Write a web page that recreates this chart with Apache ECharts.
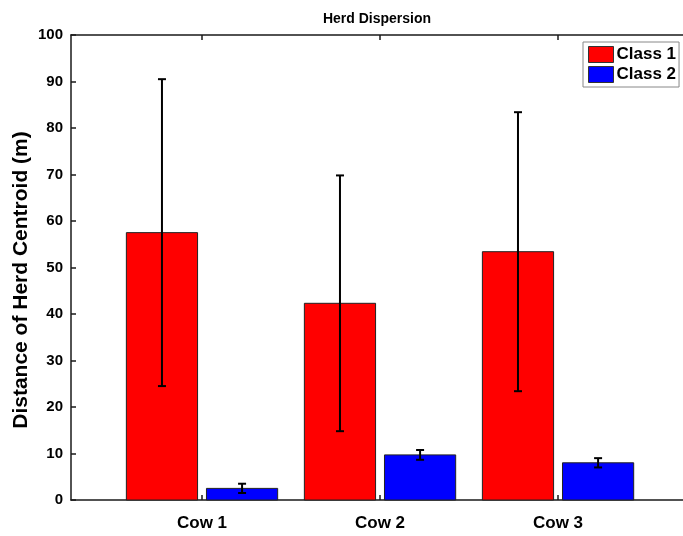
<!DOCTYPE html>
<html>
<head>
<meta charset="utf-8">
<script src="https://cdn.jsdelivr.net/npm/echarts@6/dist/echarts.min.js"></script>
<style>html,body{margin:0;padding:0;background:#fff}#c{width:683px;height:536px}</style>
</head>
<body>
<div id="c"></div>
<script>
const categories = ['Cow 1', 'Cow 2', 'Cow 3'];
const class1Mean = [57.5, 42.3, 53.4];
const class1Err = [33.0, 27.5, 30.0];
const class2Mean = [2.5, 9.7, 8.0];
const class2Err = [1.0, 1.05, 1.0];
const yTicks = [0, 10, 20, 30, 40, 50, 60, 70, 80, 90, 100];
const seriesNames = ['Class 1', 'Class 2'];

const FONT = '"Liberation Sans", Arial, Helvetica, sans-serif';
const chart = echarts.init(document.getElementById('c'), null, {renderer: 'canvas'});

function makeRender(offset, color) {
  const hw = 0.2;
  return function (params, api) {
    const x = api.value(0) + offset;
    const v = api.value(1);
    const e = api.value(2);
    const p0 = api.coord([x - hw, v]);
    const p1 = api.coord([x + hw, 0]);
    const top = api.coord([x, v + e]);
    const bot = api.coord([x, v - e]);
    const cap = 4;
    const ls = {stroke: '#000', lineWidth: 2};
    return {
      type: 'group',
      children: [
        {type: 'rect', shape: {x: p0[0], y: p0[1], width: p1[0] - p0[0], height: p1[1] - p0[1]},
         style: {fill: color, stroke: '#222', lineWidth: 1}},
        {type: 'line', shape: {x1: top[0], y1: top[1], x2: bot[0], y2: bot[1]}, style: ls},
        {type: 'line', shape: {x1: top[0] - cap, y1: top[1], x2: top[0] + cap, y2: top[1]}, style: ls},
        {type: 'line', shape: {x1: bot[0] - cap, y1: bot[1], x2: bot[0] + cap, y2: bot[1]}, style: ls}
      ]
    };
  };
}

// visible x range (plot continues past the right edge of the picture)
const xMin = 0.264, xMax = 3.702;
const tickVals = categories.map((c, i) => i + 1);
const axisLineStyle = {color: '#1a1a1a', width: 1.5};

chart.setOption({
  animation: false,
  backgroundColor: '#fff',
  title: {
    text: 'Herd Dispersion', left: 372, top: 7, textAlign: 'center',
    textStyle: {fontFamily: FONT, fontWeight: 'bold', fontSize: 14, color: '#000'}
  },
  legend: {
    orient: 'vertical', left: 583, top: 42,
    data: seriesNames,
    icon: 'rect', itemWidth: 25, itemHeight: 16, itemGap: 3,
    padding: [4, 3, 4, 5],
    borderColor: '#888', borderWidth: 1, backgroundColor: '#fff',
    textStyle: {fontFamily: FONT, fontWeight: 'bold', fontSize: 17, color: '#000', padding: [0, 0, 0, -2]},
    itemStyle: {borderColor: '#333', borderWidth: 1}
  },
  grid: {left: 71, right: 0, top: 35, bottom: 36, containLabel: false},
  xAxis: [
    {
      type: 'value', position: 'bottom', min: xMin, max: xMax,
      axisLine: {show: true, lineStyle: axisLineStyle},
      axisTick: {show: true, inside: true, length: 5, customValues: tickVals, lineStyle: axisLineStyle},
      axisLabel: {
        customValues: tickVals, margin: 15,
        formatter: v => categories[Math.round(v) - 1] || '',
        fontFamily: FONT, fontWeight: 'bold', fontSize: 17, color: '#000'
      },
      splitLine: {show: false}
    },
    {
      type: 'value', position: 'top', min: xMin, max: xMax,
      axisLine: {show: true, onZero: false, lineStyle: axisLineStyle},
      axisTick: {show: true, inside: true, length: 5, customValues: tickVals, lineStyle: axisLineStyle},
      axisLabel: {show: false},
      splitLine: {show: false}
    }
  ],
  yAxis: {
    type: 'value', min: 0, max: 100, interval: 10,
    axisLine: {show: true, lineStyle: axisLineStyle},
    axisTick: {show: true, inside: true, length: 5, lineStyle: axisLineStyle},
    axisLabel: {
      margin: 8, fontFamily: FONT, fontWeight: 'bold', fontSize: 15, color: '#000',
      formatter: v => (yTicks.indexOf(v) >= 0 ? String(v) : '')
    },
    splitLine: {show: false}
  },
  graphic: [{
    type: 'text', x: 21, y: 280, rotation: Math.PI / 2,
    style: {
      text: 'Distance of Herd Centroid (m)', align: 'center', verticalAlign: 'middle',
      font: 'bold 21px ' + FONT, fill: '#000'
    }
  }],
  series: [
    {
      name: seriesNames[0], type: 'custom', xAxisIndex: 0,
      itemStyle: {color: '#ff0000'},
      renderItem: makeRender(-0.225, '#ff0000'),
      encode: {x: 0, y: 1},
      data: class1Mean.map((m, i) => [i + 1, m, class1Err[i]])
    },
    {
      name: seriesNames[1], type: 'custom', xAxisIndex: 0,
      itemStyle: {color: '#0000ff'},
      renderItem: makeRender(0.225, '#0000ff'),
      encode: {x: 0, y: 1},
      data: class2Mean.map((m, i) => [i + 1, m, class2Err[i]])
    }
  ]
});
</script>
</body>
</html>
